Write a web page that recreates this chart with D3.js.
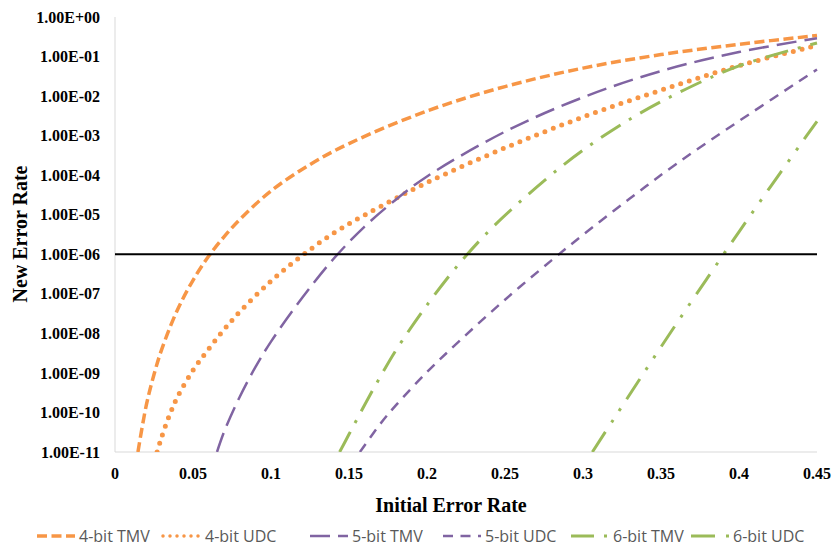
<!DOCTYPE html>
<html>
<head>
<meta charset="utf-8">
<script src="https://cdn.jsdelivr.net/npm/d3@7"></script>
<style>
  body { margin: 0; background: #fff; }
  .tick-label { font-family: "Liberation Serif", "Times New Roman", serif; font-weight: bold; font-size: 16px; fill: #000; }
  .axis-title { font-family: "Liberation Serif", "Times New Roman", serif; font-weight: bold; font-size: 20px; fill: #000; }
  .legend-text { font-family: "Open Sans", sans-serif; font-size: 16px; fill: #595959; }
</style>
</head>
<body>
<svg id="chart" width="832" height="547"></svg>
<script>
  // values
  const xTmv4 = [0.0147, 0.02, 0.025, 0.03, 0.04, 0.05, 0.06, 0.07, 0.08, 0.1, 0.125, 0.15, 0.2, 0.25, 0.3, 0.35, 0.4, 0.45];
  const yTmv4 = [1e-11, 1.48e-10, 9.1e-10, 4.0e-9, 3.9e-8, 2.2e-7, 8.9e-7, 2.8e-6, 7.6e-6, 4.0e-5, 1.86e-4, 6.3e-4, 4.2e-3, 1.74e-2, 5.1e-2, 0.112, 0.204, 0.34];

  const xUdc4 = [0.027, 0.03, 0.035, 0.04, 0.05, 0.06, 0.07, 0.08, 0.1, 0.12, 0.14, 0.16, 0.2, 0.25, 0.3, 0.35, 0.4, 0.45];
  const yUdc4 = [1e-11, 2.45e-11, 8.7e-11, 2.45e-10, 1.17e-9, 4.0e-9, 1.26e-8, 3.5e-8, 2.1e-7, 9.3e-7, 3.4e-6, 9.8e-6, 6.5e-5, 4.9e-4, 2.95e-3, 1.41e-2, 5.9e-2, 0.19];

  const xTmv5 = [0.0654, 0.07, 0.08, 0.09, 0.1, 0.12, 0.14, 0.16, 0.18, 0.2, 0.25, 0.3, 0.35, 0.4, 0.45];
  const yTmv5 = [1e-11, 3.3e-11, 2.5e-10, 1.4e-9, 6.2e-9, 7.9e-8, 7.6e-7, 5.0e-6, 2.4e-5, 9.3e-5, 1.26e-3, 9.3e-3, 4.3e-2, 0.13, 0.29];

  const xUdc5 = [0.157, 0.17, 0.18, 0.2, 0.22, 0.25, 0.28, 0.3, 0.33, 0.36, 0.4, 0.45];
  const yUdc5 = [1e-11, 5.1e-11, 1.51e-10, 1.05e-9, 6.0e-9, 7.1e-8, 7.1e-7, 3.1e-6, 2.57e-5, 1.95e-4, 2.34e-3, 4.7e-2];

  const xTmv6 = [0.144, 0.15, 0.16, 0.17, 0.18, 0.2, 0.22, 0.24, 0.26, 0.28, 0.3, 0.33, 0.36, 0.4, 0.45];
  const yTmv6 = [1e-11, 2.8e-11, 1.55e-10, 7.9e-10, 3.7e-9, 5.2e-8, 5.4e-7, 4.0e-6, 2.2e-5, 1.05e-4, 4.3e-4, 2.6e-3, 1.15e-2, 5.8e-2, 0.22];

  const xUdc6 = [0.306, 0.32, 0.34, 0.36, 0.38, 0.4, 0.42, 0.44, 0.45];
  const yUdc6 = [1e-11, 7.1e-11, 1.15e-9, 1.78e-8, 2.6e-7, 3.7e-6, 5.0e-5, 6.5e-4, 2.3e-3];

  const threshold = 1e-6;
  const seriesNames = ['4-bit TMV', '4-bit UDC', '5-bit TMV', '5-bit UDC', '6-bit TMV', '6-bit UDC'];
  const xTicks = [0, 0.05, 0.1, 0.15, 0.2, 0.25, 0.3, 0.35, 0.4, 0.45];
  const yTicks = [1, 1e-1, 1e-2, 1e-3, 1e-4, 1e-5, 1e-6, 1e-7, 1e-8, 1e-9, 1e-10, 1e-11];

  const ORANGE = '#F79646';
  const PURPLE = '#8064A2';
  const GREEN = '#9BBB59';

  const styles = [
    { color: ORANGE, width: 3.5, dash: '10,4.5', cap: 'butt' },
    { color: ORANGE, width: 5, dash: '0,9', cap: 'round' },
    { color: PURPLE, width: 2.5, dash: '20,8', cap: 'butt' },
    { color: PURPLE, width: 2.5, dash: '10,7.5', cap: 'butt' },
    { color: GREEN, width: 3, dash: '23,10,3,10', cap: 'butt' },
    { color: GREEN, width: 3, dash: '24,11,3,11,3,11', cap: 'butt' }
  ];

  const series = [
    [xTmv4, yTmv4], [xUdc4, yUdc4], [xTmv5, yTmv5],
    [xUdc5, yUdc5], [xTmv6, yTmv6], [xUdc6, yUdc6]
  ].map(([xs, ys], i) => ({
    name: seriesNames[i],
    style: styles[i],
    points: xs.map((x, j) => ({ x, y: ys[j] }))
  }));

  const svg = d3.select('#chart');
  const PLOT_LEFT = 115, PLOT_RIGHT = 817, PLOT_TOP = 17, PLOT_BOTTOM = 452;

  const x = d3.scaleLinear().domain([0, 0.45]).range([PLOT_LEFT, PLOT_RIGHT]);
  const y = d3.scaleLog().domain([1e-11, 1]).range([PLOT_BOTTOM, PLOT_TOP]);

  const fmtY = d => {
    const e = Math.round(Math.log10(d));
    return '1.00E' + (e >= 0 ? '+' : '-') + String(Math.abs(e)).padStart(2, '0');
  };

  // axis lines
  svg.append('line')
    .attr('x1', PLOT_LEFT).attr('x2', PLOT_LEFT)
    .attr('y1', PLOT_TOP).attr('y2', PLOT_BOTTOM)
    .attr('stroke', '#D9D9D9').attr('stroke-width', 1);
  svg.append('line')
    .attr('x1', PLOT_LEFT).attr('x2', PLOT_RIGHT)
    .attr('y1', PLOT_BOTTOM).attr('y2', PLOT_BOTTOM)
    .attr('stroke', '#D9D9D9').attr('stroke-width', 1);

  // tick labels
  svg.append('g')
    .selectAll('text')
    .data(yTicks)
    .enter()
    .append('text')
    .attr('class', 'tick-label')
    .attr('x', 100)
    .attr('y', d => y(d))
    .attr('dy', '0.35em')
    .attr('text-anchor', 'end')
    .text(fmtY);

  svg.append('g')
    .selectAll('text')
    .data(xTicks)
    .enter()
    .append('text')
    .attr('class', 'tick-label')
    .attr('x', d => x(d))
    .attr('y', 479)
    .attr('text-anchor', 'middle')
    .text(d => d3.format('~g')(d));

  // axis titles
  svg.append('text')
    .attr('class', 'axis-title')
    .attr('x', 451)
    .attr('y', 512)
    .attr('text-anchor', 'middle')
    .text('Initial Error Rate');

  svg.append('text')
    .attr('class', 'axis-title')
    .attr('transform', 'translate(27, 234) rotate(-90)')
    .attr('text-anchor', 'middle')
    .text('New Error Rate');

  // series
  svg.append('clipPath')
    .attr('id', 'plot-clip')
    .append('rect')
    .attr('x', PLOT_LEFT).attr('y', PLOT_TOP - 5)
    .attr('width', PLOT_RIGHT - PLOT_LEFT + 3).attr('height', PLOT_BOTTOM - PLOT_TOP + 5);

  const line = d3.line()
    .x(d => x(d.x))
    .y(d => y(d.y))
    .curve(d3.curveCatmullRom.alpha(0.5));

  svg.append('g')
    .attr('clip-path', 'url(#plot-clip)')
    .selectAll('path')
    .data(series)
    .enter()
    .append('path')
    .attr('d', d => line(d.points))
    .attr('fill', 'none')
    .attr('stroke', d => d.style.color)
    .attr('stroke-width', d => d.style.width)
    .attr('stroke-dasharray', d => d.style.dash)
    .attr('stroke-linecap', d => d.style.cap);

  // 1e-6 threshold line
  svg.append('line')
    .attr('x1', x(0)).attr('x2', x(0.45))
    .attr('y1', y(threshold)).attr('y2', y(threshold))
    .attr('stroke', '#000').attr('stroke-width', 2);

  // legend
  const legendTextX = [79, 205, 352, 485, 613, 733];
  const LEGEND_Y = 536;
  const LEGEND_LINE = 38;

  const legendElem = svg.append('g')
    .selectAll('g')
    .data(series)
    .enter()
    .append('g')
    .attr('transform', (d, i) => `translate(${legendTextX[i]}, ${LEGEND_Y})`);

  legendElem.append('line')
    .attr('x1', -LEGEND_LINE - 4).attr('x2', -4)
    .attr('y1', 0).attr('y2', 0)
    .attr('stroke', d => d.style.color)
    .attr('stroke-width', d => d.name === '4-bit UDC' ? 3.5 : d.style.width)
    .attr('stroke-dasharray', d => d.name === '4-bit UDC' ? '0,7' : d.style.dash)
    .attr('stroke-linecap', d => d.style.cap);

  legendElem.append('text')
    .attr('class', 'legend-text')
    .attr('x', 0)
    .attr('y', 0)
    .attr('dy', '0.35em')
    .text(d => d.name);
</script>
</body>
</html>
